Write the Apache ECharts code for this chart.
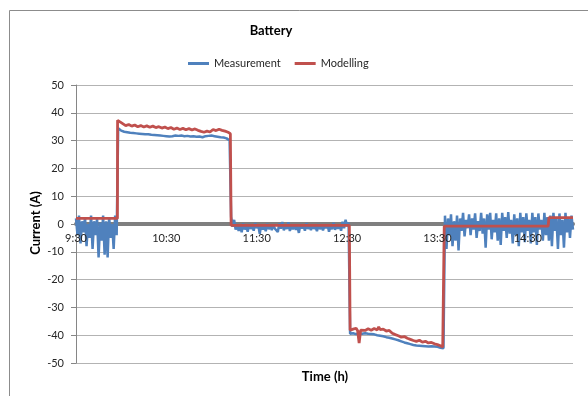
<!DOCTYPE html>
<html>
<head>
<meta charset="utf-8">
<script src="https://cdn.jsdelivr.net/npm/echarts@6/dist/echarts.min.js"></script>
<style>
  html, body { margin: 0; padding: 0; background: #fff; }
  #chart { width: 588px; height: 396px; }
</style>
</head>
<body>
<div id="chart"></div>
<script>
// Battery current, one measurement sample per minute starting at 9:30
const startMinuteOfDay = 9 * 60 + 30;
const axisEndMinute = 330;           // 15:00
const tickStepMinutes = 60;
const currentMin = -50, currentMax = 50, currentStep = 10;

const measCurrent = [
  // 9:30 - 9:57 idle, noisy
  2, -4, 3, -7, 1, -3, 2.5, -8, 0, -5, 3, -9, 1, -4, 2, -12, 0.5, -6, 3, -11, 1, -12, 2.5, -5, 0, -9, 3, -4,
  // 9:58 - 11:12 charging
  34.5, 34.0, 33.6, 33.9, 33.2, 33.6, 33.0, 33.4, 32.8, 33.2,
  32.7, 33.1, 32.6, 33.0, 32.5, 32.9, 32.4, 32.8, 32.3, 32.8,
  32.3, 32.6, 32.1, 32.5, 32.0, 32.4, 31.9, 32.3, 31.8, 32.2,
  31.7, 32.1, 31.6, 32.0, 31.5, 31.9, 31.6, 31.3, 31.8, 31.3,
  31.7, 31.3, 31.8, 31.2, 31.6, 31.2, 31.7, 31.1, 31.5, 31.1,
  31.6, 31.0, 31.4, 31.0, 31.5, 30.8, 31.2, 30.9, 31.6, 31.1,
  31.7, 31.2, 31.8, 31.3, 31.6, 31.0, 31.4, 30.8, 31.2, 30.7,
  31.1, 30.5, 30.8, 30.3, 30.0,
  // 11:13 - 12:31 near zero
  2.5, -1.0, 1.5, -2.0, 0.0, -2.5, -0.5, -3.0, 0.2, -2.0,
  -0.5, -2.8, 0.0, -1.8, -0.6, -2.4, 0.3, -1.5, -0.4, -3.5,
  -0.2, -2.0, -0.8, -2.6, 0.1, -1.9, -0.5, -2.2, -0.3, -1.6,
  -0.9, -2.9, 0.2, -1.7, 0.7, -2.3, -0.6, -1.8, 0.6, -2.5,
  -0.7, -1.9, -0.2, -2.1, -0.8, -3.2, -0.1, -1.6, -0.5, -2.4,
  0.3, -1.8, -0.6, -2.2, -0.3, -1.7, -0.9, -2.6, 0.0, -1.9,
  -0.4, -2.3, -0.7, -1.5, -0.2, -2.8, -0.5, -1.9, 0.4, -2.1,
  -0.6, -1.7, -0.3, -2.4, 0.8, -1.5, 1.5, -0.8, 0.5,
  // 12:32 - 13:34 discharging
  -39.5, -39.8, -39.3, -40.0, -39.6, -40.2, -39.4, -39.9, -39.5, -40.1,
  -39.3, -39.8, -39.5, -40.0, -39.6, -40.2, -39.7, -40.3, -40.0, -40.5,
  -40.2, -40.7, -40.4, -40.9, -40.7, -41.2, -40.9, -41.4, -41.2, -41.7,
  -41.5, -42.0, -41.8, -42.4, -42.2, -42.8, -42.6, -43.1, -42.9, -43.4,
  -43.2, -43.7, -43.5, -44.0, -43.7, -44.2, -43.8, -44.3, -43.9, -44.4,
  -44.0, -44.5, -44.1, -44.6, -44.0, -44.5, -44.1, -44.7, -44.2, -44.8,
  -44.5, -45.0, -44.7,
  // 13:35 - 15:00 idle, noisy
  3.0, -9.0, 2.0, -4.0, 3.5, -8.0, 1.0, -6.0, 3.0, -9.5,
  2.0, -2.5, 4.0, -4.5, 1.5, -1.5, 3.5, -4.0, 2.0, -2.0,
  3.8, -5.0, 1.0, -2.5, 4.0, -3.5, 2.0, -8.5, 3.5, -2.0,
  4.0, -5.5, 1.5, -3.0, 3.8, -6.0, 2.0, -7.5, 4.0, -2.5,
  2.5, -5.0, 4.3, -3.5, 1.5, -7.0, 3.5, -4.0, 2.0, -8.0,
  4.0, -3.0, 2.5, -6.5, 3.8, -2.5, 1.5, -7.0, 4.0, -3.0,
  2.5, -7.5, 3.8, -2.0, 1.5, -6.0, 4.0, -4.0, 2.5, -6.0,
  3.0, -8.0, 4.0, -2.5, 2.0, -9.0, 3.8, -4.0, 1.5, -8.5,
  4.0, -3.0, 2.5, -5.0, 3.0, -2.0
];

// Model output: minutes after 9:30 and current (A)
const modelMinutes = [
  0, 27.5, 27.6, 29, 31, 33, 35, 37, 39, 41, 43, 45, 47, 49, 51, 53, 55, 57, 59, 61,
  63, 65, 67, 69, 71, 73, 75, 77, 79, 81, 83, 85, 87, 89, 91, 93, 95, 97, 99, 101,
  102.5, 103, 181.5, 182, 183, 184, 185, 186, 187, 188, 189, 190, 192, 194, 196, 198, 200, 201, 202, 204,
  206, 208, 210, 212, 214, 216, 218, 220, 222, 224, 226, 228, 230, 232, 234, 236, 238, 240, 242, 243.5,
  244.5, 313.5, 314, 330
];
const modelCurrent = [
  2.0, 2.0, 37.3, 36.8, 36.1, 35.4, 35.8, 35.2, 35.6, 35.0, 35.4, 34.9, 35.3, 34.8, 35.2, 34.7, 35.0, 34.5, 34.9, 34.3,
  34.7, 34.1, 34.5, 34.0, 34.4, 33.9, 34.3, 33.8, 34.2, 33.7, 33.3, 33.0, 33.4, 33.1, 34.0, 33.6, 34.1, 33.7, 33.4, 33.0,
  32.5, -0.5, -0.5, -38.2, -38.6, -37.8, -38.3, -37.5, -38.4, -42.8, -38.2, -37.6, -38.3, -37.7, -38.2, -37.6, -38.1, -37.0, -38.0, -37.8,
  -38.5, -38.3, -39.3, -39.8, -40.2, -40.7, -40.5, -41.1, -41.5, -41.9, -42.2, -41.8, -42.5, -42.2, -42.8, -42.6, -43.1, -43.4, -43.8, -44.2,
  -0.8, -0.8, 2.3, 2.3
];

const seriesNames = ['Measurement', 'Modelling'];
const seriesColors = ['#4f81bd', '#c0504d'];

function clockLabel(minutes) {
  const total = startMinuteOfDay + minutes;
  const h = Math.floor(total / 60);
  const m = total % 60;
  return h + ':' + (m < 10 ? '0' + m : m);
}

const measData = measCurrent.map((v, i) => [i, v]);
const modelData = modelMinutes.map((t, i) => [t, modelCurrent[i]]);

const FONT = 'Lato, "Liberation Sans", sans-serif';
const chart = echarts.init(document.getElementById('chart'), null, { renderer: 'canvas' });

// Plot area geometry; the upper half-grid ends exactly at 0 A so its
// time axis (carrying the labels) sits on the zero line above the data.
const plotLeft = 76, plotTop = 85, plotWidth = 497, plotHeight = 278;
const upperHeight = plotHeight * (currentMax / (currentMax - currentMin));

chart.setOption({
  animation: false,
  backgroundColor: '#ffffff',
  textStyle: { fontFamily: FONT },
  grid: [
    { left: plotLeft, top: plotTop, width: plotWidth, height: plotHeight },
    { left: plotLeft, top: plotTop, width: plotWidth, height: upperHeight }
  ],
  legend: {
    data: seriesNames,
    left: 183, top: 53,
    icon: 'rect', itemWidth: 21, itemHeight: 3, itemGap: 14,
    textStyle: { fontSize: 11, color: '#262626', fontFamily: FONT }
  },
  xAxis: [
    {
      gridIndex: 0, type: 'value', min: 0, max: axisEndMinute, interval: tickStepMinutes,
      z: 0,
      splitLine: { show: false },
      axisTick: { show: false },
      axisLine: { show: true, onZero: true, lineStyle: { color: '#7f7f7f', width: 4 } },
      axisLabel: { show: false }
    },
    {
      gridIndex: 1, type: 'value', min: 0, max: axisEndMinute, interval: tickStepMinutes,
      position: 'bottom', z: 5,
      splitLine: { show: false },
      axisTick: { show: false },
      axisLine: { show: false, onZero: false },
      axisLabel: { show: true, margin: 9, fontSize: 11, color: '#262626', fontFamily: FONT,
        showMinLabel: true, showMaxLabel: false, formatter: clockLabel }
    }
  ],
  yAxis: [
    {
      gridIndex: 0, type: 'value', min: currentMin, max: currentMax, interval: currentStep,
      axisLine: { show: true, lineStyle: { color: '#868686', width: 1 } },
      axisTick: { show: true, length: 5, lineStyle: { color: '#868686' } },
      axisLabel: { margin: 12, fontSize: 11, color: '#262626', fontFamily: FONT },
      splitLine: { show: true, lineStyle: { color: '#b3b3b3', width: 1 } }
    },
    {
      gridIndex: 1, type: 'value', min: 0, max: currentMax, show: false
    }
  ],
  series: [
    {
      name: seriesNames[0], type: 'line', xAxisIndex: 0, yAxisIndex: 0, data: measData,
      showSymbol: false, symbol: 'none', z: 2,
      itemStyle: { color: seriesColors[0] },
      lineStyle: { color: seriesColors[0], width: 2.5 }
    },
    {
      name: seriesNames[1], type: 'line', xAxisIndex: 0, yAxisIndex: 0, data: modelData,
      showSymbol: false, symbol: 'none', z: 3,
      itemStyle: { color: seriesColors[1] },
      lineStyle: { color: seriesColors[1], width: 2.8 }
    }
  ],
  graphic: [
    { type: 'rect', silent: true, z: -1,
      shape: { x: 9.5, y: 10.5, width: 600, height: 400 },
      style: { fill: 'none', stroke: '#8c8c8c', lineWidth: 1 } },
    { type: 'text', x: 271, y: 31,
      style: { text: 'Battery', font: 'bold 13px ' + FONT, fill: '#000', align: 'center', verticalAlign: 'middle' } },
    { type: 'text', x: 36, y: 223, rotation: Math.PI / 2,
      style: { text: 'Current (A)', font: 'bold 13px ' + FONT, fill: '#000', align: 'center', verticalAlign: 'middle' } },
    { type: 'text', x: 325, y: 377,
      style: { text: 'Time (h)', font: 'bold 13px ' + FONT, fill: '#000', align: 'center', verticalAlign: 'middle' } }
  ]
});
</script>
</body>
</html>
